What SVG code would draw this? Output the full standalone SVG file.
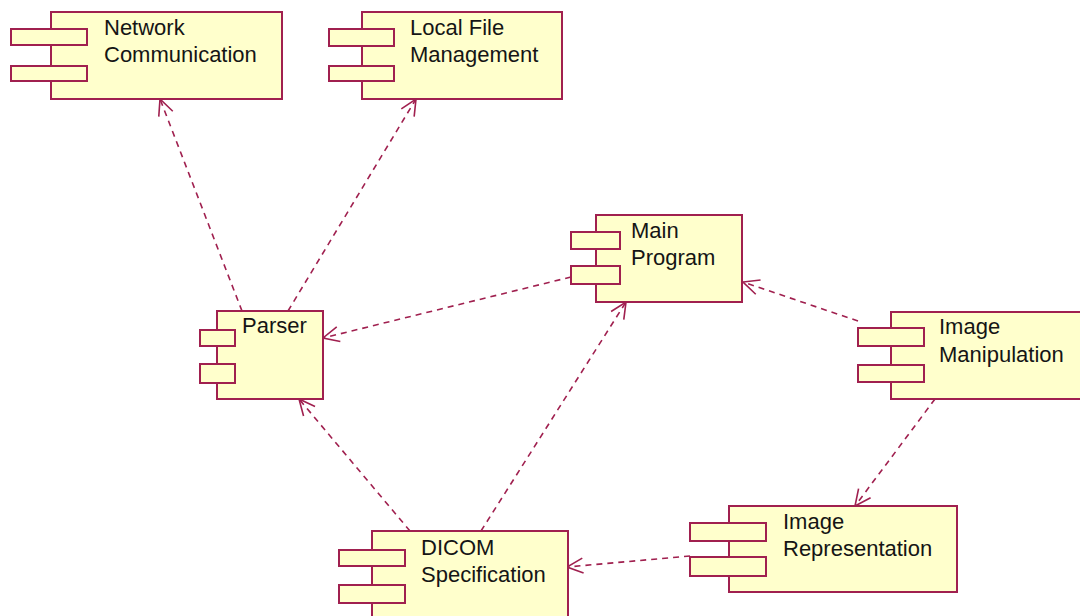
<svg xmlns="http://www.w3.org/2000/svg" width="1080" height="616" viewBox="0 0 1080 616">
<style>
.box{fill:#FFFFCC;stroke:#A0204F;stroke-width:2}
.lbl{font-family:"Liberation Sans",Arial,sans-serif;font-size:22px;fill:#151515}
.dep{fill:none;stroke:#A0204F;stroke-width:1.6;stroke-dasharray:6,5}
</style>
<defs>
<marker id="arr" markerUnits="userSpaceOnUse" markerWidth="24" markerHeight="24" refX="0" refY="0" orient="auto" overflow="visible">
<path d="M-16,-7.5 L0,0 L-16,7.5" fill="none" stroke="#A0204F" stroke-width="1.6"/>
</marker>
</defs>
<rect width="1080" height="616" fill="#FFFFFF"/>
<g id="connectors">
<line class="dep" x1="242" y1="311" x2="160" y2="99" marker-end="url(#arr)"/>
<line class="dep" x1="288" y1="311" x2="416" y2="99" marker-end="url(#arr)"/>
<line class="dep" x1="571" y1="277" x2="323" y2="338" marker-end="url(#arr)"/>
<line class="dep" x1="410" y1="531" x2="299" y2="399" marker-end="url(#arr)"/>
<line class="dep" x1="481" y1="531" x2="626" y2="302" marker-end="url(#arr)"/>
<line class="dep" x1="858" y1="321" x2="743" y2="282" marker-end="url(#arr)"/>
<line class="dep" x1="935" y1="399" x2="855" y2="506" marker-end="url(#arr)"/>
<line class="dep" x1="690" y1="556" x2="567" y2="567" marker-end="url(#arr)"/>
</g>
<g id="network-communication">
<rect class="box" x="51" y="12" width="231" height="87"/>
<rect class="box" x="11" y="29" width="76" height="16"/>
<rect class="box" x="11" y="66" width="76" height="15"/>
<text class="lbl" x="104" y="35">Network</text>
<text class="lbl" x="104" y="62">Communication</text>
</g>
<g id="local-file-management">
<rect class="box" x="362" y="12" width="200" height="87"/>
<rect class="box" x="329" y="29" width="65" height="17"/>
<rect class="box" x="329" y="66" width="65" height="15"/>
<text class="lbl" x="410" y="35">Local File</text>
<text class="lbl" x="410" y="62">Management</text>
</g>
<g id="main-program">
<rect class="box" x="596" y="215" width="146" height="87"/>
<rect class="box" x="571" y="232" width="49" height="17"/>
<rect class="box" x="571" y="266" width="49" height="18"/>
<text class="lbl" x="631" y="238">Main</text>
<text class="lbl" x="631" y="265">Program</text>
</g>
<g id="parser">
<rect class="box" x="217" y="311" width="106" height="88"/>
<rect class="box" x="200" y="330" width="35" height="16"/>
<rect class="box" x="200" y="364" width="35" height="19"/>
<text class="lbl" x="242" y="333">Parser</text>
</g>
<g id="image-manipulation">
<rect class="box" x="891" y="312" width="200" height="87"/>
<rect class="box" x="858" y="328" width="66" height="18"/>
<rect class="box" x="858" y="365" width="66" height="17"/>
<text class="lbl" x="939" y="334">Image</text>
<text class="lbl" x="939" y="362">Manipulation</text>
</g>
<g id="image-representation">
<rect class="box" x="729" y="506" width="228" height="86"/>
<rect class="box" x="690" y="523" width="76" height="18"/>
<rect class="box" x="690" y="557" width="76" height="19"/>
<text class="lbl" x="783" y="529">Image</text>
<text class="lbl" x="783" y="556">Representation</text>
</g>
<g id="dicom-specification">
<rect class="box" x="372" y="531" width="196" height="95"/>
<rect class="box" x="339" y="550" width="66" height="16"/>
<rect class="box" x="339" y="585" width="66" height="18"/>
<text class="lbl" x="421" y="555">DICOM</text>
<text class="lbl" x="421" y="582">Specification</text>
</g>
</svg>
